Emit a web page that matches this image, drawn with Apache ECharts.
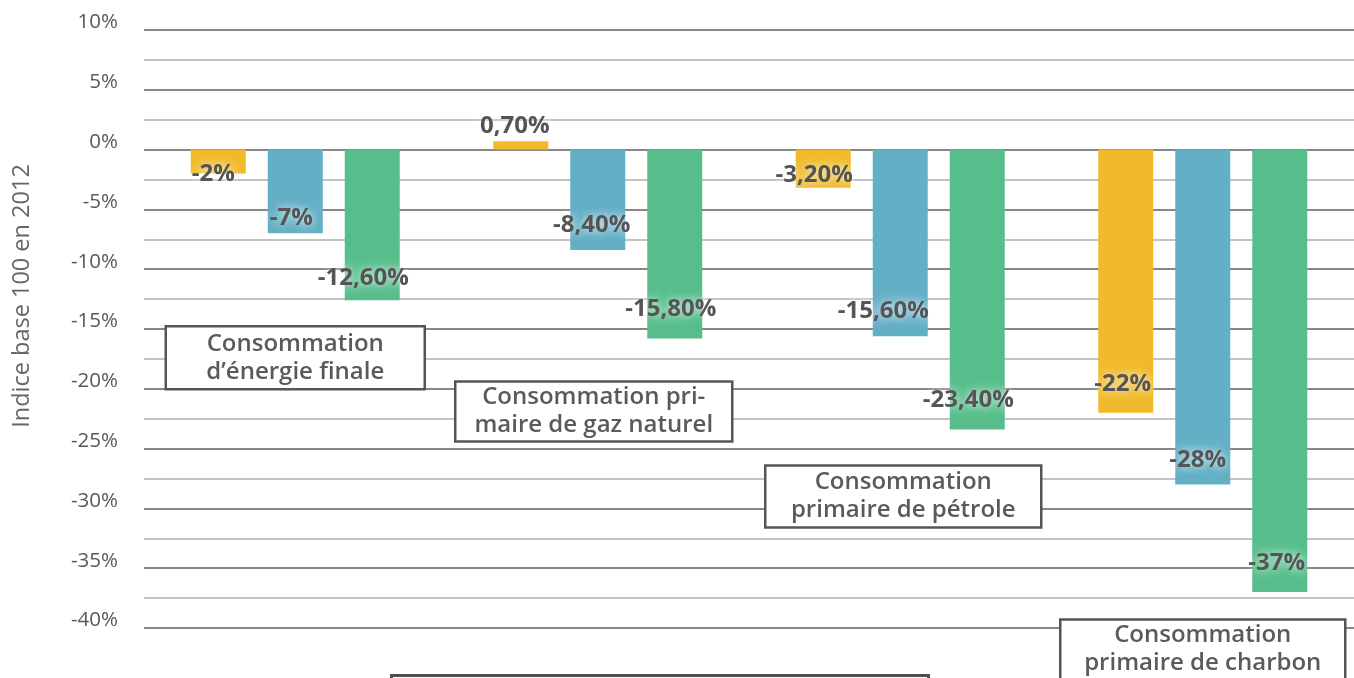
<!DOCTYPE html>
<html>
<head>
<meta charset="utf-8">
<script src="https://cdn.jsdelivr.net/npm/echarts@6/dist/echarts.min.js"></script>
<style>
html,body{margin:0;padding:0;background:#fff;}
#chart{width:1354px;height:678px;}
</style>
</head>
<body>
<div id="chart"></div>
<script>
// ---- data ----
const categories = [
  'Consommation\nd’énergie finale',
  'Consommation pri-\nmaire de gaz naturel',
  'Consommation\nprimaire de pétrole',
  'Consommation\nprimaire de charbon'
];
const seriesNames = ['Série 1', 'Série 2', 'Série 3'];
const serie1 = [-2, 0.7, -3.2, -22];
const serie2 = [-7, -8.4, -15.6, -28];
const serie3 = [-12.6, -15.8, -23.4, -37];
const yMin = -40, yMax = 10, yStep = 5;

// ---- styles / layout (not data) ----
const colors = ['#F0BA2A', '#63AFC6', '#57BE8B'];
// label center height above bar end (px) and horizontal shift
const labelUp = [[-1, -12, 13, 29], [15, 25, 25, 24], [22, 29, 29, 29]];
const labelDx = [[-5, -6, -9, -3], [-4, -6, -17, -5], [-9, -4, -9, -3]];
// annotation box centres (value units) and sizes
const boxY = [-17.4, -21.9, -29, -41.8];
const boxDx = [0, -4, 3, 0];
const boxW = [259, 277, 276, 285];
const boxH = [63, 60, 62, 60];

function fmt(v) {
  return (Number.isInteger(v) ? String(v) : v.toFixed(2).replace('.', ',')) + '%';
}

const labelBase = {
  show: true,
  fontFamily: 'Open Sans',
  fontWeight: 'bold',
  fontSize: 24,
  lineHeight: 26,
  color: '#555555',
  textShadowColor: 'rgba(255,255,255,0.95)',
  textShadowBlur: 10,
  formatter: p => fmt(p.value)
};

function buildSeries(vals, si) {
  return {
    name: seriesNames[si],
    type: 'bar',
    barWidth: 55,
    barGap: '40%',
    itemStyle: { color: colors[si] },
    z: 3,
    data: vals.map((v, i) => {
      const up = labelUp[si][i];
      const lab = v >= 0
        ? { position: 'top', distance: Math.max(0, -up - 10), offset: [labelDx[si][i], 0] }
        : { position: 'insideBottom', distance: up - 13, offset: [labelDx[si][i], 0] };
      return { value: v, label: lab };
    }),
    label: labelBase
  };
}

const chart = echarts.init(document.getElementById('chart'));
chart.setOption({
  animation: false,
  backgroundColor: '#ffffff',
  grid: { left: 144, right: 0, top: 30, bottom: 50 },
  xAxis: {
    type: 'category',
    data: categories,
    axisLine: { show: false },
    axisTick: { show: false },
    axisLabel: { show: false },
    splitLine: { show: false }
  },
  yAxis: {
    type: 'value',
    min: yMin,
    max: yMax,
    interval: yStep,
    name: 'Indice base 100 en 2012',
    nameLocation: 'middle',
    nameGap: 110,
    nameTextStyle: {
      fontFamily: 'Open Sans',
      fontSize: 23.5,
      color: '#666666',
      padding: [0, 0, 0, 66]
    },
    axisLine: { show: false },
    axisTick: { show: false },
    axisLabel: {
      fontFamily: 'Open Sans',
      fontSize: 20.5,
      color: '#595959',
      margin: 26,
      verticalAlign: 'bottom',
      lineHeight: 15,
      formatter: v => v + '%'
    },
    splitLine: { show: true, lineStyle: { color: '#5f5f5f', width: 1.5 } },
    minorTick: { show: false, splitNumber: 2 },
    minorSplitLine: { show: true, lineStyle: { color: '#b0b0b0', width: 1.5 } }
  },
  series: [
    buildSeries(serie1, 0),
    buildSeries(serie2, 1),
    buildSeries(serie3, 2),
    {
      type: 'custom',
      z: 5,
      clip: false,
      silent: true,
      data: categories.map((c, i) => [i, boxY[i]]),
      renderItem: function (params, api) {
        const i = params.dataIndex;
        const pt = api.coord([api.value(0), api.value(1)]);
        const cx = pt[0] + boxDx[i], cy = pt[1];
        const w = boxW[i], h = boxH[i];
        return {
          type: 'group',
          children: [
            {
              type: 'rect',
              shape: { x: cx - w / 2, y: cy - h / 2, width: w, height: h },
              style: { fill: '#ffffff', stroke: '#555555', lineWidth: 2.5 }
            },
            {
              type: 'text',
              x: cx, y: cy,
              style: {
                text: categories[i],
                align: 'center',
                verticalAlign: 'middle',
                fontFamily: 'Open Sans',
                fontWeight: 600,
                fontSize: 24,
                lineHeight: 28,
                fill: '#5a5a5a'
              }
            }
          ]
        };
      }
    }
  ],
  graphic: [
    {
      type: 'group',
      left: 390, top: 674,
      children: [
        { type: 'rect', shape: { x: 0, y: 0, width: 537, height: 30 }, style: { fill: '#ffffff', stroke: '#4f4f4f', lineWidth: 3 } },
        { type: 'rect', shape: { x: 3, y: 3, width: 267, height: 2 }, style: { fill: '#a3884a' } },
        { type: 'rect', shape: { x: 270, y: 3, width: 264, height: 2 }, style: { fill: '#5d8f8a' } }
      ]
    }
  ]
});
</script>
</body>
</html>
